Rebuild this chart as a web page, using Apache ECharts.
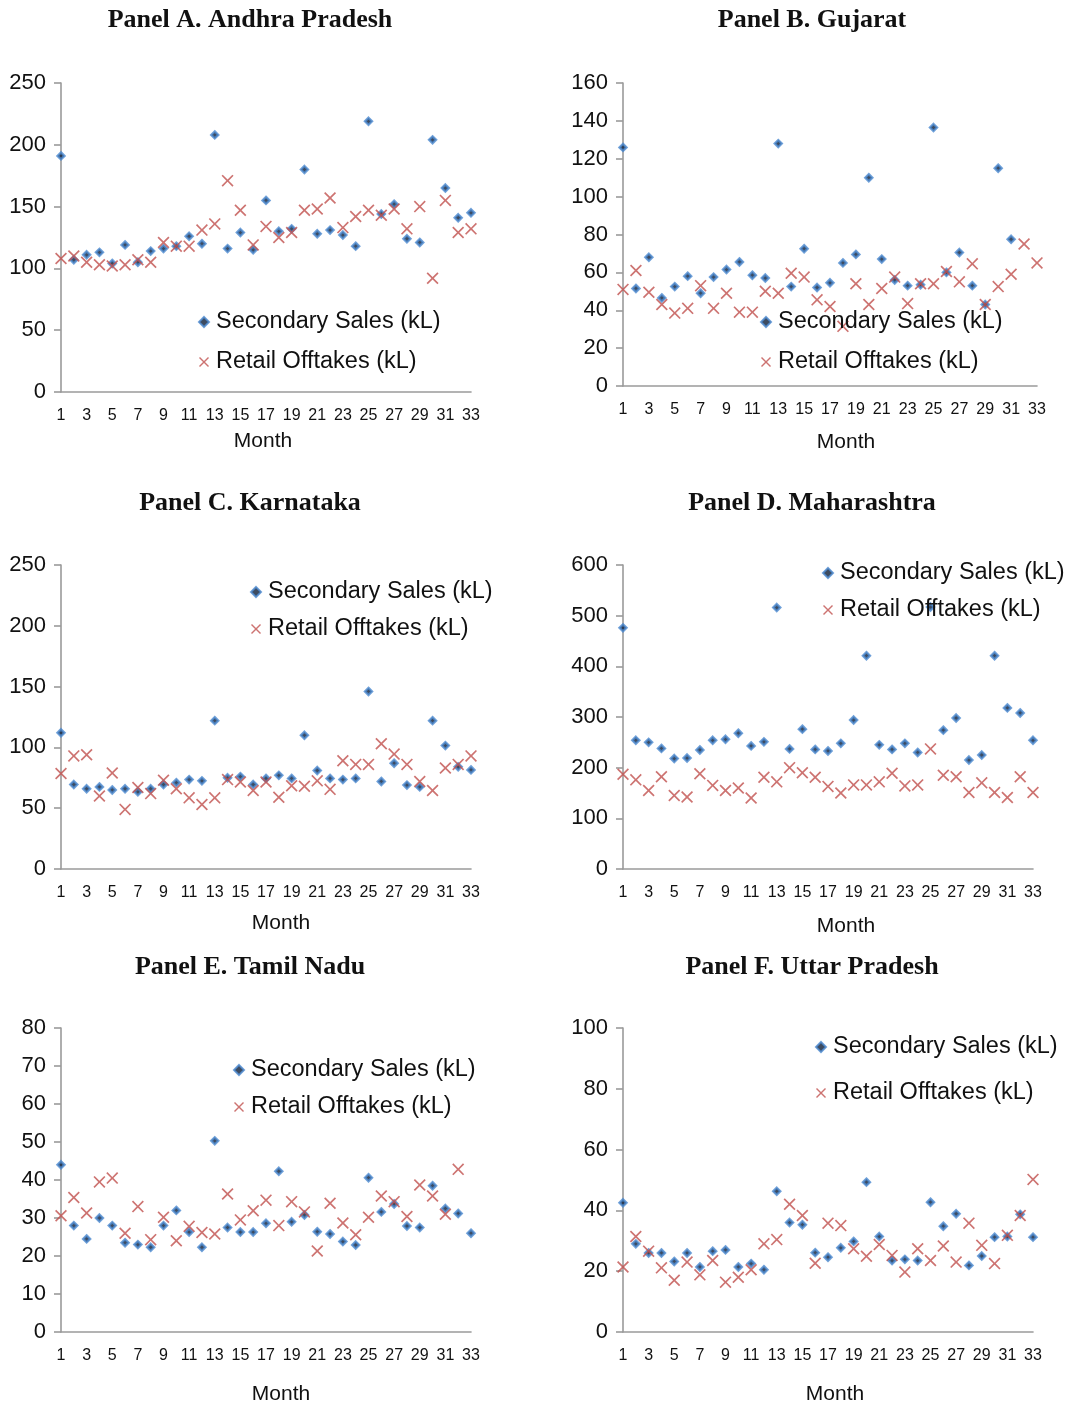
<!DOCTYPE html>
<html>
<head>
<meta charset="utf-8">
<script src="https://cdn.jsdelivr.net/npm/echarts@6/dist/echarts.min.js"></script>
<style>
html,body{margin:0;padding:0;background:#fff;}
#chart{width:1077px;height:1406px;}
</style>
</head>
<body>
<div id="chart"></div>
<script>
// ---- data ----
const months = ['1','2','3','4','5','6','7','8','9','10','11','12','13','14','15','16','17','18','19','20','21','22','23','24','25','26','27','28','29','30','31','32','33'];
const seriesNames = ['Secondary Sales (kL)', 'Retail Offtakes (kL)'];

const aSecondary = [191, 107, 111, 113, 104, 119, 105, 114, 116, 118, 126, 120, 208, 116, 129, 115, 155, 130, 132, 180, 128, 131, 127, 118, 219, 144, 152, 124, 121, 204, 165, 141, 145];
const aRetail    = [108, 110, 105, 103, 102, 103, 107, 105, 121, 118, 118, 131, 136, 171, 147, 119, 134, 125, 129, 147, 148, 157, 133, 142, 147, 143, 148, 132, 150, 92, 155, 129, 132];

const bSecondary = [126, 51.5, 68, 46.5, 52.5, 58, 49, 57.5, 61.5, 65.5, 58.5, 57, 128, 52.5, 72.5, 52, 54.5, 65, 69.5, 110, 67, 56, 53, 53.5, 136.5, 60, 70.5, 53, 43, 115, 77.5, null, null];
const bRetail    = [51, 61, 49.5, 43, 38.5, 41, 53, 41, 49, 39, 39, 50, 49, 59.5, 57.5, 45.5, 42, 31.5, 54, 43, 51.5, 57.5, 43.5, 54, 54, 60.5, 55, 64.5, 43, 52.5, 59, 75, 65];

const cSecondary = [112, 69.5, 66, 67.5, 65, 66, 63.5, 66, 69.5, 71, 73.5, 72.5, 122, 75, 76, 69.5, 74.5, 77, 74.5, 110, 81, 74.5, 73.5, 74.5, 146, 72, 87, 69, 67.5, 122, 101.5, 84, 81.5];
const cRetail    = [78.5, 93, 94, 60, 79, 49, 67, 62, 73, 66, 58.5, 53, 58.5, 73.5, 71.5, 64.5, 71.5, 59, 68.5, 68, 72.5, 65.5, 89, 86, 86, 103, 94.5, 86, 72, 64.5, 83, 86, 93];

const dSecondary = [476, 254, 250, 238, 218, 219, 235, 254, 256, 268, 243, 251, 516, 237, 276, 236, 233, 248, 294, 421, 245, 236, 248, 230, 517, 274, 298, 215, 225, 421, 318, 308, 254];
const dRetail    = [187, 176, 155, 182, 145, 142, 188, 165, 155, 160, 140, 181, 172, 200, 190, 181, 163, 150, 166, 166, 172, 189, 164, 166, 237, 185, 182, 151, 170, 151, 141, 182, 151];

const eSecondary = [44, 28, 24.5, 30, 28, 23.5, 23, 22.3, 28, 32, 26.3, 22.3, 50.3, 27.5, 26.3, 26.3, 28.6, 42.3, 29, 30.8, 26.4, 25.8, 23.8, 22.9, 40.6, 31.6, 33.7, 27.9, 27.5, 38.5, 32.5, 31.2, 26];
const eRetail    = [30.6, 35.4, 31.3, 39.5, 40.5, 26, 33, 24.3, 30.2, 24, 27.8, 26.2, 25.8, 36.3, 29.5, 31.9, 34.7, 28, 34.3, 31.6, 21.3, 33.9, 28.7, 25.6, 30.2, 35.8, 34.3, 30.4, 38.7, 35.8, 31, 42.8, null];

const fSecondary = [42.5, 29, 26, 26, 23.2, 26, 21.4, 26.6, 27, 21.4, 22.5, 20.5, 46.3, 36, 35.3, 26.1, 24.6, 27.7, 29.8, 49.3, 31.4, 23.5, 23.9, 23.5, 42.7, 34.8, 38.9, 21.9, 25, 31.2, 31.4, 38.7, 31.2];
const fRetail    = [21.4, 31.4, 26.6, 21.1, 17, 23, 18.8, 23.5, 16.4, 18, 20.5, 29, 30.4, 42, 38.3, 22.6, 35.8, 35, 27.4, 24.9, 28.8, 25.2, 19.7, 27.4, 23.5, 28.3, 23, 35.8, 28.5, 22.5, 31.8, 38.3, 50.2];

const panelTitles = ['Panel A. Andhra Pradesh', 'Panel B. Gujarat', 'Panel C. Karnataka', 'Panel D. Maharashtra', 'Panel E. Tamil Nadu', 'Panel F. Uttar Pradesh'];
const yMax = [250, 160, 250, 600, 80, 100];
const yInterval = [50, 20, 50, 100, 10, 20];
const xAxisName = 'Month';

// ---- layout (positions/styles) ----
const layout = [
  {grid:{left:61, top:83, width:410, height:309}, tx:250, ty:20, lg:{left:198, top:308, gap:12}, nameGap:39, namePad:[0,6,0,0]},
  {grid:{left:623, top:83, width:414, height:303}, tx:812, ty:20, lg:{left:760, top:308, gap:12}, nameGap:46, namePad:[0,0,0,32]},
  {grid:{left:61, top:565, width:410, height:304}, tx:250, ty:503, lg:{left:250, top:578, gap:9}, nameGap:44, namePad:[0,0,0,30]},
  {grid:{left:623, top:565, width:410, height:304}, tx:812, ty:503, lg:{left:822, top:559, gap:9}, nameGap:47, namePad:[0,0,0,36]},
  {grid:{left:61, top:1028, width:410, height:305}, tx:250, ty:967, lg:{left:233, top:1056, gap:9}, nameGap:52, namePad:[0,0,0,30]},
  {grid:{left:623, top:1028, width:410, height:305}, tx:812, ty:967, lg:{left:815, top:1033, gap:18}, nameGap:52, namePad:[0,0,0,14]}
];
const panelData = [[aSecondary,aRetail],[bSecondary,bRetail],[cSecondary,cRetail],[dSecondary,dRetail],[eSecondary,eRetail],[fSecondary,fRetail]];

const SANS = '"Liberation Sans", Arial, sans-serif';
const SERIF = '"Liberation Serif", "Times New Roman", serif';
const AXIS_COLOR = '#9a9a9a';
const BLUE = '#4a88cf';
const RED = '#c0504d';
const XPATH = 'path://M1,0L5,4L9,0L10,1L6,5L10,9L9,10L5,6L1,10L0,9L4,5L0,1Z';

const grids = [], xAxes = [], yAxes = [], series = [], legends = [], graphics = [];
layout.forEach((L, i) => {
  grids.push(Object.assign({containLabel:false}, L.grid));
  xAxes.push({
    type:'category', gridIndex:i, data:months, boundaryGap:false,
    name:xAxisName, nameLocation:'middle', nameGap:L.nameGap,
    nameTextStyle:{fontFamily:SANS, fontSize:21, color:'#111', padding:L.namePad},
    axisLine:{show:true, lineStyle:{color:AXIS_COLOR, width:1.6}},
    axisTick:{show:false},
    axisLabel:{interval:1, fontFamily:SANS, fontSize:16, color:'#111', margin:16},
    splitLine:{show:false}
  });
  yAxes.push({
    type:'value', gridIndex:i, min:0, max:yMax[i], interval:yInterval[i],
    axisLine:{show:true, lineStyle:{color:AXIS_COLOR, width:1.6}},
    axisTick:{show:true, length:7, lineStyle:{color:AXIS_COLOR, width:1.6}},
    axisLabel:{fontFamily:SANS, fontSize:22, color:'#111', margin:15},
    splitLine:{show:false}
  });
  series.push({
    type:'scatter', name:seriesNames[0], xAxisIndex:i, yAxisIndex:i,
    data:panelData[i][0], symbol:'diamond', symbolSize:7,
    itemStyle:{color:'#0d1e38', borderColor:BLUE, borderWidth:2.4},
    silent:true, z:2
  });
  series.push({
    type:'scatter', name:seriesNames[1], xAxisIndex:i, yAxisIndex:i,
    data:panelData[i][1], symbol:XPATH, symbolSize:12,
    itemStyle:{color:RED, borderWidth:0},
    silent:true, z:3
  });
  legends.push({
    left:L.lg.left, top:L.lg.top, orient:'vertical', itemWidth:10, itemHeight:10,
    itemGap:L.lg.gap, selectedMode:false, padding:0,
    textStyle:{fontFamily:SANS, fontSize:23.5, color:'#111', lineHeight:28, padding:[0,0,0,2]},
    data:seriesNames.slice()
  });
  graphics.push({
    type:'text', x:L.tx, y:L.ty,
    style:{text:panelTitles[i], textAlign:'center', textVerticalAlign:'middle',
      font:'bold 26px ' + SERIF, fill:'#111'}
  });
});

const chart = echarts.init(document.getElementById('chart'), null, {renderer:'canvas'});
chart.setOption({
  backgroundColor:'#fff',
  animation:false,
  grid:grids, xAxis:xAxes, yAxis:yAxes, series:series, legend:legends,
  graphic:graphics
});
</script>
</body>
</html>
